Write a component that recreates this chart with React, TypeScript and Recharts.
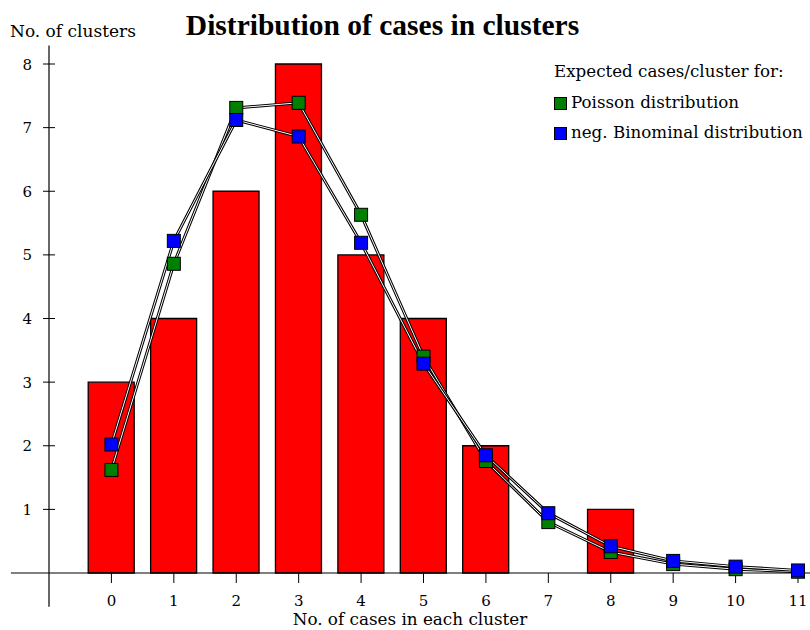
import React from 'react';
import { ComposedChart, Bar, Line, XAxis, YAxis, ReferenceLine } from 'recharts';

const categories = [0, 1, 2, 3, 4, 5, 6, 7, 8, 9, 10, 11];
const observed = [3, 4, 6, 8, 5, 4, 2, 0, 1, 0, 0, 0];
const poisson = [1.62, 4.86, 7.31, 7.39, 5.63, 3.4, 1.76, 0.8, 0.33, 0.14, 0.06, 0.02];
const negBinomial = [2.02, 5.22, 7.12, 6.86, 5.19, 3.29, 1.85, 0.94, 0.42, 0.19, 0.1, 0.04];
const yTicks = [1, 2, 3, 4, 5, 6, 7, 8];

const title = 'Distribution of cases in clusters';
const yLabel = 'No. of clusters';
const xLabel = 'No. of cases in each cluster';
const legendTitle = 'Expected cases/cluster for:';
const legendItems = [
  { name: 'Poisson distribution', color: '#008000' },
  { name: 'neg. Binominal distribution', color: '#0000ff' },
];

const data = categories.map((c, i) => ({
  x: c,
  observed: observed[i],
  poisson: poisson[i],
  negbin: negBinomial[i],
}));

const FONT = 'DejaVu Serif';

const YTick = (props: any) => {
  const { x, y, payload } = props;
  const ax = x + 17;
  return (
    <g>
      <line x1={ax - 6} x2={ax + 6} y1={y} y2={y} stroke="#000" strokeWidth={1} />
      <text x={x} y={y} dy={5.5} textAnchor="end" fontFamily={FONT} fontSize={15} fill="#000">
        {payload.value}
      </text>
    </g>
  );
};

const makeDot = (color: string) => (props: any) => {
  const { cx, cy, index } = props;
  if (cx == null || cy == null) return <g key={index} />;
  return (
    <rect
      key={index}
      x={cx - 6.5}
      y={cy - 6.5}
      width={13}
      height={13}
      fill={color}
      stroke="#000"
      strokeWidth={1}
    />
  );
};

export default function App() {
  return (
    <div
      style={{
        position: 'absolute',
        left: 0,
        top: 0,
        width: 810,
        height: 630,
        background: '#fff',
        fontFamily: FONT,
        overflow: 'hidden',
      }}
    >
      <ComposedChart
        width={810}
        height={630}
        data={data}
        margin={{ top: 64, right: 12, bottom: 17, left: 9 }}
      >
        <XAxis
          type="number"
          dataKey="x"
          domain={[-1, 11]}
          ticks={categories}
          interval={0}
          axisLine={false}
          tickLine={{ stroke: '#000', strokeWidth: 1 }}
          tickSize={10}
          tickMargin={12}
          height={40}
          tick={{ fill: '#000', fontSize: 15, fontFamily: FONT }}
        />
        <YAxis
          type="number"
          domain={[0, 8]}
          ticks={yTicks}
          interval={0}
          axisLine={false}
          tickLine={false}
          tickSize={6}
          tickMargin={11}
          width={40}
          tick={<YTick />}
        />
        <Bar
          dataKey="observed"
          barSize={46}
          fill="#ff0000"
          stroke="#000"
          strokeWidth={1.3}
          isAnimationActive={false}
        />
        <ReferenceLine
          segment={[{ x: -1.61, y: 0 }, { x: 11.2, y: 0 }]}
          stroke="#000"
          strokeWidth={1.2}
          ifOverflow="visible"
        />
        <ReferenceLine
          segment={[{ x: -1, y: -0.53 }, { x: -1, y: 8.29 }]}
          stroke="#000"
          strokeWidth={1.2}
          ifOverflow="visible"
        />
        <Line dataKey="poisson" stroke="#000" strokeWidth={3} dot={false} activeDot={false} isAnimationActive={false} />
        <Line dataKey="poisson" stroke="#fff" strokeWidth={1} dot={false} activeDot={false} isAnimationActive={false} />
        <Line dataKey="negbin" stroke="#000" strokeWidth={3} dot={false} activeDot={false} isAnimationActive={false} />
        <Line dataKey="negbin" stroke="#fff" strokeWidth={1} dot={false} activeDot={false} isAnimationActive={false} />
        <Line dataKey="poisson" stroke="none" dot={makeDot('#008000')} activeDot={false} isAnimationActive={false} />
        <Line dataKey="negbin" stroke="none" dot={makeDot('#0000ff')} activeDot={false} isAnimationActive={false} />
      </ComposedChart>

      <div
        style={{
          position: 'absolute',
          left: 0,
          width: 765,
          top: 11,
          textAlign: 'center',
          fontFamily: 'Liberation Serif',
          fontWeight: 'bold',
          fontSize: 29.5,
          lineHeight: '29px',
          whiteSpace: 'nowrap',
        }}
      >
        {title}
      </div>
      <div
        style={{
          position: 'absolute',
          left: 10,
          top: 23,
          fontSize: 17,
          lineHeight: '17px',
          whiteSpace: 'nowrap',
        }}
      >
        {yLabel}
      </div>
      <div
        style={{
          position: 'absolute',
          left: 0,
          width: 820,
          top: 611,
          textAlign: 'center',
          fontSize: 16.8,
          lineHeight: '17px',
          whiteSpace: 'nowrap',
        }}
      >
        {xLabel}
      </div>
      <div style={{ position: 'absolute', left: 554, top: 63, fontSize: 16.7, lineHeight: '17px', whiteSpace: 'nowrap' }}>
        <div style={{ height: 31 }}>{legendTitle}</div>
        {legendItems.map((it) => (
          <div key={it.name} style={{ height: 30, display: 'flex', alignItems: 'flex-start' }}>
            <span
              style={{
                display: 'inline-block',
                width: 11,
                height: 11,
                background: it.color,
                border: '1px solid #000',
                marginTop: 3,
                marginRight: 4,
              }}
            />
            <span>{it.name}</span>
          </div>
        ))}
      </div>
    </div>
  );
}
